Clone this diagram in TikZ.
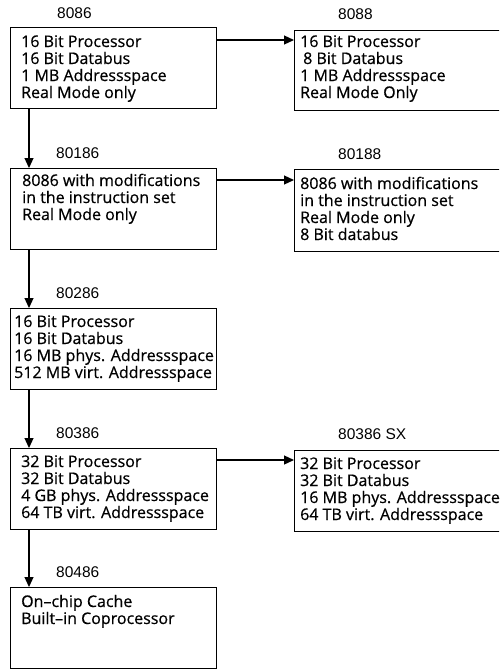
\documentclass[tikz,border=0pt]{standalone}
\usepackage{fontspec}
\setmainfont{Open Sans}
\newfontfamily\bodyfont{Open Sans}[FakeBold=0.6,Ligatures=TeX]
\newfontfamily\labelfont{Liberation Sans}
\usetikzlibrary{arrows.meta}
\tikzset{
  box/.style={draw, line width=1.2pt, inner sep=0pt, anchor=north west},
  txt/.style={anchor=base west, align=left, inner sep=0pt, font=\bodyfont\fontsize{16}{17}\selectfont},
  lbl/.style={anchor=base west, inner sep=0pt, font=\labelfont\fontsize{15.5}{16}\selectfont},
  conn/.style={line width=1.2pt, -{Triangle[length=10pt,width=9pt]}},
}
\begin{document}
\begin{tikzpicture}[x=1pt,y=-1pt]
\useasboundingbox (0,0) rectangle (499,670);
\clip (0,0) rectangle (499,670);
% left column boxes
\node[box, minimum width=206pt, minimum height=81pt] (b8086) at (10,27) {};
\node[box, minimum width=206pt, minimum height=81pt] (b80186) at (10,168) {};
\node[box, minimum width=206pt, minimum height=81pt] (b80286) at (10,308) {};
\node[box, minimum width=206pt, minimum height=81pt] (b80386) at (10,448) {};
\node[box, minimum width=206pt, minimum height=81pt] (b80486) at (10,587) {};
% right column boxes
\node[box, minimum width=215pt, minimum height=80pt] (b8088) at (294,30) {};
\node[box, minimum width=215pt, minimum height=82pt] (b80188) at (294,169) {};
\node[box, minimum width=215pt, minimum height=81pt] (b80386sx) at (294,450) {};
% labels
\node[lbl] (l8086) at (57,18) {8086};
\node[lbl] (l8088) at (338,19) {8088};
\node[lbl] (l80186) at (56,158) {80186};
\node[lbl] (l80188) at (338,159) {80188};
\node[lbl] (l80286) at (56,298) {80286};
\node[lbl] (l80386) at (56,438) {80386};
\node[lbl] (l80386sx) at (338,439) {80386 SX};
\node[lbl] (l80486) at (56,577) {80486};
% texts (anchored at the baseline of the last line)
\node[txt] (t8086) at (21,98) {16 Bit Processor\\16 Bit Databus\\1 MB Addressspace\\Real Mode only};
\node[txt] (t8088) at (300,98) {16 Bit Processor\\\hspace*{3pt}8 Bit Databus\\1 MB Addressspace\\Real Mode Only};
\node[txt] (t80186) at (22,220) {8086 with modifications\\in the instruction set\\Real Mode only};
\node[txt] (t80188) at (300,240) {8086 with modifications\\in the instruction set\\Real Mode only\\8 Bit databus};
\node[txt] (t80286) at (14,378) {16 Bit Processor\\16 Bit Databus\\16 MB phys. Addressspace\\512 MB virt. Addressspace};
\node[txt] (t80386) at (21,518) {32 Bit Processor\\32 Bit Databus\\4 GB phys. Addressspace\\64 TB virt. Addressspace};
\node[txt] (t80386sx) at (300,520) {32 Bit Processor\\32 Bit Databus\\16 MB phys. Addressspace\\64 TB virt. Addressspace};
\node[txt] (t80486) at (21,624) {On–chip Cache\\Built–in Coprocessor};
% horizontal connectors
\coordinate (h1) at ([yshift=-13pt]b8086.north east);
\coordinate (h2) at ([yshift=-12pt]b80186.north east);
\coordinate (h3) at ([yshift=-12pt]b80386.north east);
\draw[conn] (h1) -- (h1 -| b8088.west);
\draw[conn] (h2) -- (h2 -| b80188.west);
\draw[conn] (h3) -- (h3 -| b80386sx.west);
% vertical connectors
\draw[conn] ([xshift=19pt]b8086.south west) -- ([xshift=19pt]b80186.north west);
\draw[conn] ([xshift=19pt]b80186.south west) -- ([xshift=19pt]b80286.north west);
\draw[conn] ([xshift=19pt]b80286.south west) -- ([xshift=19pt]b80386.north west);
\draw[conn] ([xshift=19pt]b80386.south west) -- ([xshift=19pt]b80486.north west);
\end{tikzpicture}
\end{document}
